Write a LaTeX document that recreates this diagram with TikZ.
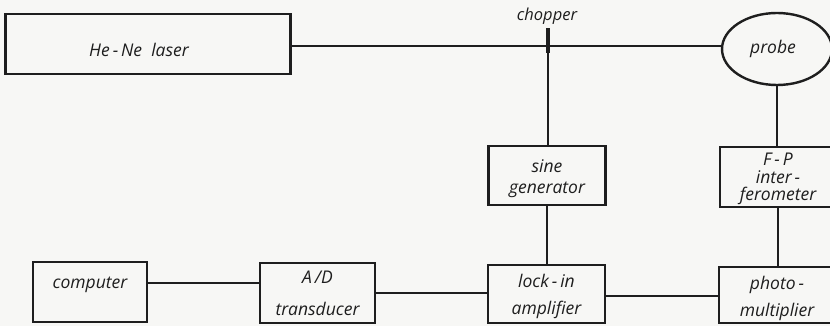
\documentclass[tikz,border=0pt]{standalone}
\usepackage{fontspec}
\setmainfont{Open Sans}
\usetikzlibrary{shapes.geometric}
\definecolor{ink}{RGB}{30,30,30}
\definecolor{paper}{RGB}{247,247,245}
\tikzset{
  box/.style={draw=ink, line width=2.4pt, minimum width=#1, inner sep=0pt},
  box/.default=116pt,
  lbl/.style={font=\fontsize{17.5}{19.5}\selectfont\itshape, text=ink, align=center, inner sep=0pt},
  conn/.style={draw=ink, line width=1.3pt},
}
\begin{document}
\begin{tikzpicture}[x=1pt,y=-1pt]
\fill[paper] (0,0) rectangle (830,326);
\clip (0,0) rectangle (830,326);
\useasboundingbox (0,0) rectangle (830,326);
% nodes
\node[box=285pt, minimum height=60pt, label={[lbl, xshift=-9pt, yshift=-6pt]center:He\,-\,Ne\ \ laser}] (laser) at (148,44) {};
\node[ellipse, draw=ink, line width=2.4pt, minimum width=110pt, minimum height=72pt, inner sep=0pt, label={[lbl, xshift=-4pt]center:probe}] (probe) at (777,49) {};
\node[box=117pt, minimum height=59pt, label={[lbl, yshift=-3pt]center:sine\\[2pt]generator}] (sine) at (547,175.5) {};
\node[box=116pt, minimum height=60pt, label={[lbl, yshift=-2pt]center:F\,-\,P\\[-2pt]inter\,-\\[-2pt]ferometer}] (fp) at (778,177) {};
\node[box=114pt, minimum height=60pt, label={[lbl, yshift=7pt]center:computer}] (computer) at (90,292) {};
\node[box=115pt, minimum height=60pt, label={[lbl, yshift=-0.5pt]center:A\,/D\\[13pt]transducer}] (ad) at (317.5,293) {};
\node[box=117pt, minimum height=58pt, label={[lbl, yshift=-2.5pt]center:lock\,-\,in\\[7pt]amplifier}] (lockin) at (546.5,294) {};
\node[box=116pt, minimum height=56pt, label={[lbl, yshift=-3.5pt]center:photo\,-\\[7pt]multiplier}] (photo) at (777,295) {};
\node[fill=ink, minimum width=4pt, minimum height=25pt, inner sep=0pt] (chopper) at (548,40.5) {};
\node[lbl, font=\fontsize{16.5}{18}\selectfont\itshape] (choplabel) at (547,16) {chopper};
% connectors
\draw[conn] ([yshift=-2pt]laser.east) -- ([yshift=-2pt]laser.east -| probe.west);
\draw[conn] (chopper.center) -- (chopper.center |- sine.north);
\node[fill=ink, minimum width=4pt, minimum height=25pt, inner sep=0pt] at (chopper) {};
\draw[conn] (probe.south) -- (probe.south |- fp.north);
\draw[conn] (fp.south) -- (fp.south |- photo.north);
\draw[conn] (sine.south) -- (sine.south |- lockin.north);
\draw[conn] ([yshift=9pt]computer.east) -- ([yshift=9pt]computer.east -| ad.west);
\draw[conn] (ad.east) -- (ad.east -| lockin.west);
\draw[conn] ([yshift=-2pt]lockin.east) -- ([yshift=-2pt]lockin.east -| photo.west);
\end{tikzpicture}
\end{document}
